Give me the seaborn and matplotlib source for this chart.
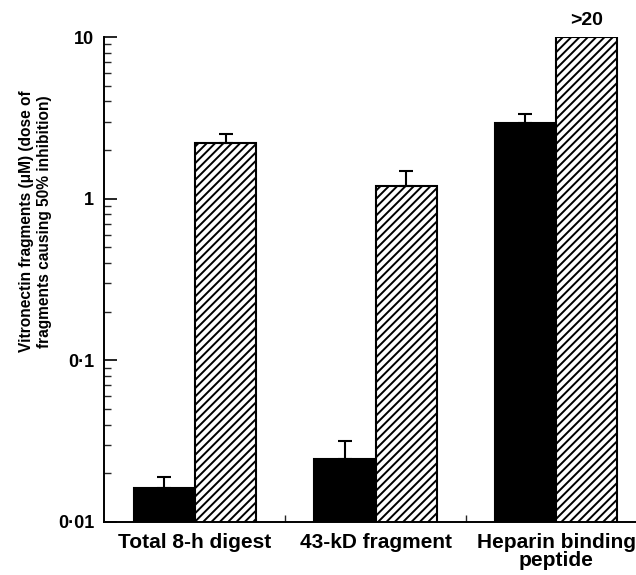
import numpy as np
import pandas as pd
import matplotlib
matplotlib.use("Agg")
import matplotlib.pyplot as plt
from matplotlib.ticker import FixedLocator, LogLocator, NullFormatter
import seaborn as sns

# ---- data ----
categories = ["Total 8-h digest", "43-kD fragment", "Heparin binding\npeptide"]
series = ["solid", "hatched"]
solid_values = [0.0163, 0.0244, 2.92]
solid_err_top = [0.0190, 0.0317, 3.32]
hatched_values = [2.22, 1.20, 10.0]
hatched_err_top = [2.52, 1.48, None]
ytick_values = [0.01, 0.1, 1, 10]
ytick_labels = ["0·01", "0·1", "1", "10"]
annotation_text = ">20"
ylabel_text = "Vitronectin fragments (μM) (dose of\nfragments causing 50% inhibition)"

sns.set_theme(style="ticks")
plt.rcParams['font.family'] = ['Liberation Sans', 'DejaVu Sans']
plt.rcParams['font.weight'] = 'bold'
plt.rcParams['hatch.linewidth'] = 1.4
plt.rcParams['hatch.color'] = 'black'
plt.rcParams['text.color'] = 'black'

df = pd.DataFrame({
    "category": categories * 2,
    "series": [series[0]] * len(categories) + [series[1]] * len(categories),
    "value": solid_values + hatched_values,
})

fig = plt.figure(figsize=(6.36, 5.75), dpi=100)
ax = fig.add_axes([104 / 636, 1 - 522 / 575, 1 - 104 / 636, (522 - 37) / 575])
ax.set_yscale("log")

sns.barplot(data=df, x="category", y="value", hue="series", hue_order=series,
            order=categories, palette=["black", "white"], width=0.68,
            edgecolor="black", linewidth=1.5, errorbar=None, legend=False,
            saturation=1, ax=ax)

n = len(categories)
solid_patches = ax.patches[:n]
hatched_patches = ax.patches[n:2 * n]
for p in hatched_patches:
    p.set_hatch("////")
    p.set_facecolor("white")
    p.set_edgecolor("black")

def draw_err(patches, vals, tops):
    for p, v, t in zip(patches, vals, tops):
        if t is None:
            continue
        xc = p.get_x() + p.get_width() / 2
        ax.errorbar([xc], [v], yerr=[[0], [t - v]], fmt="none", ecolor="black",
                    elinewidth=1.5, capsize=4.7, capthick=1.5, zorder=1)

draw_err(solid_patches, solid_values, solid_err_top)
draw_err(hatched_patches, hatched_values, hatched_err_top)

# annotation above the off-scale bar
p_last = hatched_patches[-1]
ax.annotate(annotation_text, xy=(p_last.get_x() + p_last.get_width() / 2, hatched_values[-1]),
            xytext=(0, 6), textcoords="offset points", ha="center", va="bottom",
            fontsize=14, fontweight="bold", color="black", annotation_clip=False)

ax.set_ylim(ytick_values[0], ytick_values[-1])
ax.set_xlim(-0.504, 2.443)

ax.yaxis.set_major_locator(FixedLocator(ytick_values))
ax.set_yticklabels(ytick_labels)
ax.yaxis.set_minor_locator(LogLocator(base=10, subs=np.arange(2, 10)))
ax.yaxis.set_minor_formatter(NullFormatter())
ax.tick_params(axis="y", which="major", direction="in", length=9, width=1.2, pad=7,
               labelsize=13, colors="black")
ax.tick_params(axis="y", which="minor", direction="in", length=5, width=1.0)

ax.xaxis.set_minor_locator(FixedLocator([0.5, 1.5]))
ax.tick_params(axis="x", which="major", length=0, pad=8, labelsize=15, colors="black")
ax.tick_params(axis="x", which="minor", direction="in", length=5, width=1.0)
for lbl in ax.get_xticklabels() + ax.get_yticklabels():
    lbl.set_fontweight("bold")
for lbl in ax.get_xticklabels():
    lbl.set_linespacing(0.9)

ax.set_xlabel("")
ax.set_ylabel(ylabel_text, fontsize=11.2, fontweight="bold", color="black")
ax.yaxis.set_label_coords(-0.098, 0.62)

sns.despine(ax=ax)
for s in ["left", "bottom"]:
    ax.spines[s].set_linewidth(1.4)
    ax.spines[s].set_color("black")

fig.savefig("out.png", dpi=100, facecolor="white")
